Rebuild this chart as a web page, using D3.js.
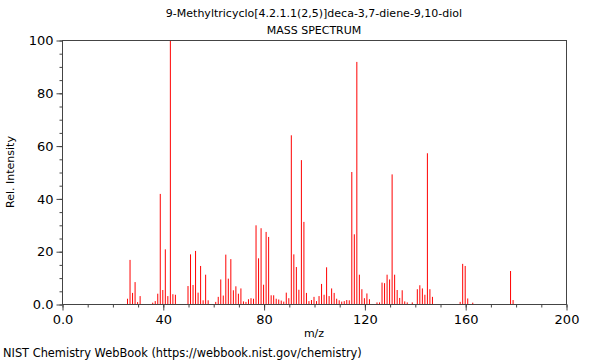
<!DOCTYPE html>
<html><head><meta charset="utf-8">
<script src="https://cdn.jsdelivr.net/npm/d3@7"></script>
<style>body{margin:0;background:#fff}svg{display:block}text{font-family:"DejaVu Sans",sans-serif;fill:#000}</style>
</head><body><svg id="c" width="600" height="360"></svg>
<script>
const title = "9-Methyltricyclo[4.2.1.1(2,5)]deca-3,7-diene-9,10-diol";
const subtitle = "MASS SPECTRUM";
const mz = [26,27,28,29,30,31,36,37,38,39,40,41,42,43,44,45,50,51,52,53,54,55,56,57,58,61,62,63,64,65,66,67,68,69,70,71,72,73,74,75,76,77,78,79,80,81,82,83,84,85,86,87,88,89,90,91,92,93,94,95,96,97,98,99,100,101,102,103,104,105,106,107,108,109,110,111,112,113,114,115,116,117,118,119,120,121,122,125,126,127,128,129,130,131,132,133,134,135,136,137,139,141,142,143,144,145,146,147,158,159,160,161,163,178,179];
const intensity = [2.0,16.7,4.2,8.3,0.7,3.0,0.5,1.1,3.9,41.7,5.3,20.7,3.0,100,3.7,3.5,6.8,18.8,7.2,20.1,4.3,14.4,1.4,11.1,1.4,0.8,2.7,9.3,3.2,18.7,9.6,17.0,5.2,6.7,3.9,5.9,1.0,0.8,1.8,2.2,2.0,29.8,17.3,28.7,7.3,27.3,25.4,3.3,3.3,2.0,1.7,1.3,0.9,4.3,2.2,63.9,18.8,14.0,5.4,54.5,31.1,4.2,1.1,1.5,2.7,1.1,3.0,7.6,3.5,13.9,3.0,5.9,4.2,2.0,1.4,0.9,1.1,1.5,1.4,50.0,26.4,91.7,11.1,5.6,2.2,4.0,1.8,0.6,0.6,8.1,7.9,11.1,9.3,49.1,11.1,5.3,2.3,5.2,1.0,0.6,0.6,5.6,7.1,5.9,3.5,57.1,5.6,2.7,0.8,15.2,14.4,2.1,0.5,12.5,1.5];
const xTickLabels = ["0.0","40","80","120","160","200"];
const yTickLabels = ["0.0","20","40","60","80","100"];

const svg = d3.select("#c");
const L=62, R=566, T=40, B=304;
const x = d3.scaleLinear().domain([0,200]).range([L,R]);
const y = d3.scaleLinear().domain([0,100]).range([B,T]);
const axisColor = "#444";

// bars
svg.append("g").selectAll("line").data(mz).join("line")
  .attr("x1",(d)=>x(d)).attr("x2",(d)=>x(d))
  .attr("y1",y(0)).attr("y2",(d,i)=>y(intensity[i]))
  .attr("stroke","#ff0000").attr("stroke-width",1);

// frame
svg.append("rect").attr("x",L+0.5).attr("y",T+0.5).attr("width",R-L).attr("height",B-T)
  .attr("fill","none").attr("stroke",axisColor).attr("stroke-width",1);

// x axis
const xMajor = [0,40,80,120,160,200];
const xg = svg.append("g").attr("transform",`translate(0.5,${B+0.5})`);
xg.call(d3.axisBottom(x).tickValues(d3.range(0,201,10)).tickSize(3).tickFormat(""))
  .call(g=>g.select(".domain").remove())
  .call(g=>g.selectAll(".tick line").attr("stroke",axisColor));
xg.append("g").call(d3.axisBottom(x).tickValues(xMajor).tickSize(6).tickFormat((d,i)=>xTickLabels[i]))
  .call(g=>g.select(".domain").remove())
  .call(g=>g.selectAll(".tick line").attr("stroke",axisColor))
  .call(g=>g.selectAll("text").attr("font-size",13).attr("y",10).attr("font-family","DejaVu Sans"));

// y axis
const yMajor = [0,20,40,60,80,100];
const yg = svg.append("g").attr("transform",`translate(${L+0.5},0.5)`);
yg.call(d3.axisLeft(y).tickValues(d3.range(0,101,5)).tickSize(3).tickFormat(""))
  .call(g=>g.select(".domain").remove())
  .call(g=>g.selectAll(".tick line").attr("stroke",axisColor));
yg.append("g").call(d3.axisLeft(y).tickValues(yMajor).tickSize(6).tickFormat((d,i)=>yTickLabels[i]))
  .call(g=>g.select(".domain").remove())
  .call(g=>g.selectAll(".tick line").attr("stroke",axisColor))
  .call(g=>g.selectAll("text").attr("font-size",13).attr("x",-9).attr("font-family","DejaVu Sans"));

// titles
svg.append("text").attr("x",314).attr("y",17).attr("text-anchor","middle").attr("font-size",11).text(title);
svg.append("text").attr("x",314).attr("y",34).attr("text-anchor","middle").attr("font-size",11).text(subtitle);
svg.append("text").attr("x",314).attr("y",337).attr("text-anchor","middle").attr("font-size",11).text("m/z");
svg.append("text").attr("transform","translate(14,172) rotate(-90)").attr("text-anchor","middle").attr("font-size",11).text("Rel. Intensity");
svg.append("text").attr("x",3).attr("y",357).attr("font-size",11.4).text("NIST Chemistry WebBook (https://webbook.nist.gov/chemistry)");
</script></body></html>
